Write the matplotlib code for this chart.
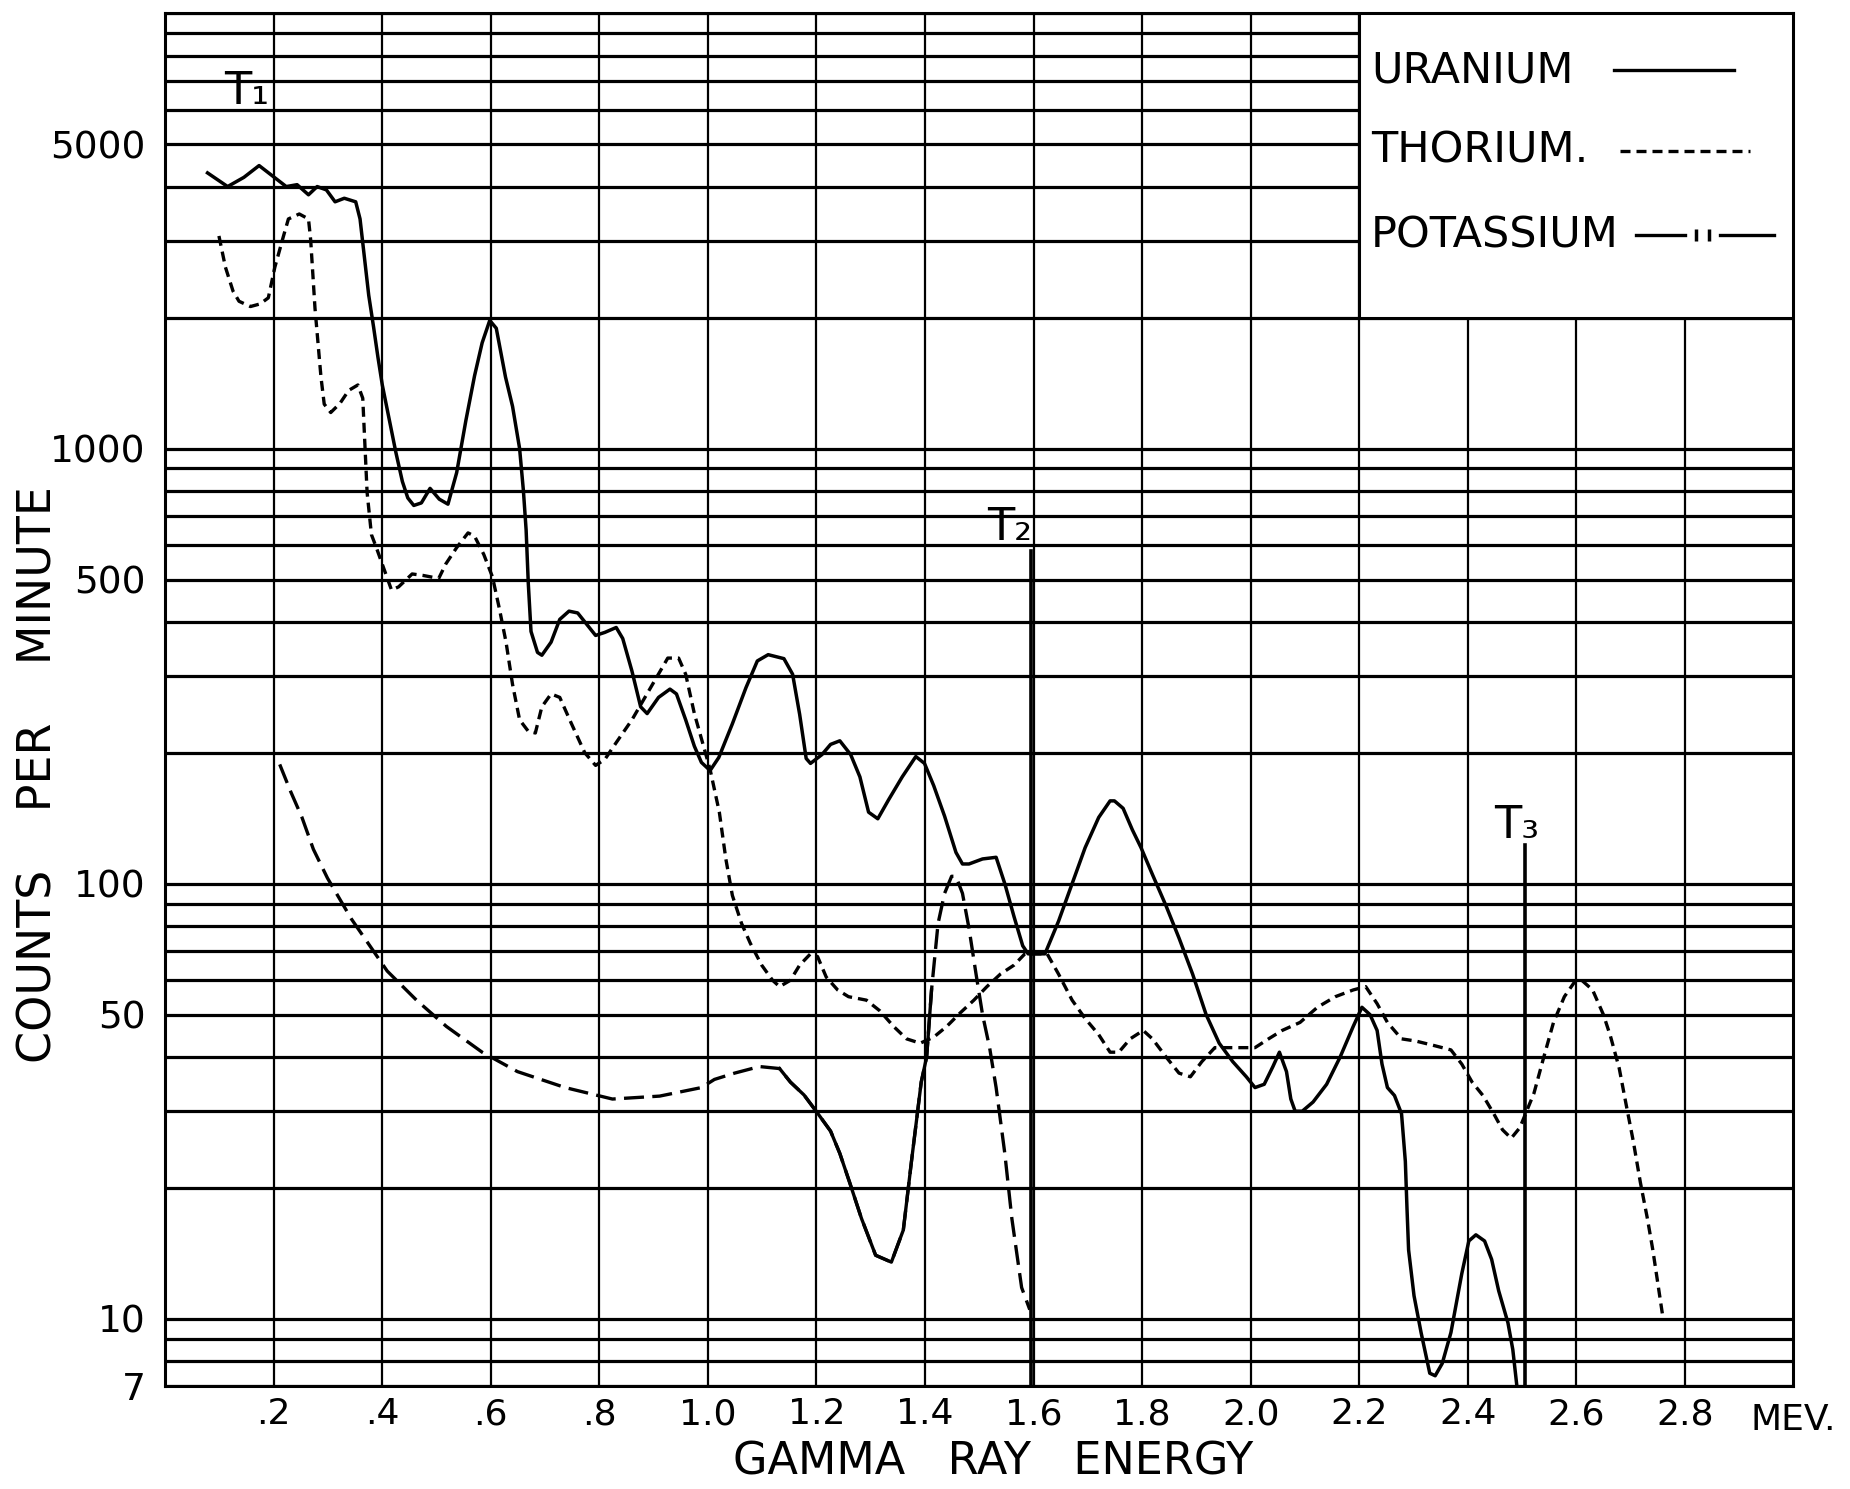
import matplotlib.pyplot as plt
from matplotlib.patches import Rectangle
from matplotlib.ticker import NullLocator

plt.rcParams['font.family'] = ['DejaVu Sans']

# uranium spectrum (solid)
uranium_mev = [0.078, 0.115, 0.145, 0.173, 0.202, 0.223, 0.243, 0.264, 0.280, 0.297,
               0.313, 0.330, 0.351, 0.359, 0.367, 0.375, 0.384, 0.392, 0.400, 0.412,
               0.425, 0.437, 0.447, 0.458, 0.472, 0.488, 0.505, 0.521, 0.537, 0.554,
               0.570, 0.584, 0.598, 0.610, 0.627, 0.640, 0.653, 0.660, 0.665, 0.669,
               0.674, 0.686, 0.694, 0.711, 0.727, 0.744, 0.760, 0.777, 0.793, 0.810,
               0.831, 0.843, 0.860, 0.876, 0.888, 0.909, 0.930, 0.942, 0.959, 0.975,
               0.988, 1.004, 1.020, 1.045, 1.070, 1.091, 1.111, 1.140, 1.156, 1.169,
               1.181, 1.189, 1.210, 1.226, 1.243, 1.263, 1.280, 1.296, 1.313, 1.333,
               1.358, 1.383, 1.399, 1.416, 1.436, 1.457, 1.469, 1.481, 1.506, 1.531,
               1.547, 1.564, 1.580, 1.590, 1.621, 1.646, 1.671, 1.695, 1.720, 1.741,
               1.749, 1.765, 1.782, 1.798, 1.819, 1.844, 1.868, 1.893, 1.918, 1.942,
               1.967, 1.992, 2.008, 2.025, 2.041, 2.053, 2.066, 2.074, 2.082, 2.095,
               2.115, 2.140, 2.165, 2.189, 2.205, 2.220, 2.233, 2.242, 2.252, 2.265,
               2.278, 2.285, 2.288, 2.291, 2.301, 2.314, 2.330, 2.340, 2.353, 2.369,
               2.389, 2.402, 2.415, 2.431, 2.444, 2.457, 2.474, 2.483, 2.490]
uranium_cpm = [4300, 4000, 4200, 4470, 4190, 4000, 4040, 3830, 4000, 3930,
               3690, 3760, 3690, 3370, 2760, 2250, 1900, 1620, 1400, 1180,
               980, 840, 770, 740, 750, 810, 765, 745, 880, 1160,
               1470, 1750, 1970, 1890, 1460, 1250, 1000, 800, 650, 490,
               380, 340, 335, 359, 405, 423, 419, 394, 372, 378,
               388, 366, 308, 255, 246, 268, 280, 273, 238, 207,
               190, 182, 195, 233, 282, 325, 336, 329, 303, 245,
               194, 189, 198, 209, 213, 198, 176, 146, 141, 156,
               176, 196, 189, 168, 143, 118, 111, 111, 114, 115,
               100, 84, 72, 69, 69, 82, 100, 121, 142, 155,
               155, 149, 133, 121, 105, 89, 75, 62, 50, 43,
               39, 36, 34, 34.6, 38, 41, 37, 32, 30, 30,
               31.5, 34.6, 40, 47, 52, 50, 46, 38.5, 34, 32.6,
               29.6, 23, 18, 14.4, 11.3, 9.3, 7.5, 7.4, 7.9, 9.3,
               12.7, 15.1, 15.6, 15.1, 13.7, 11.6, 9.8, 8.5, 7.1]

# thorium spectrum (short dashes)
thorium_mev = [0.099, 0.111, 0.125, 0.136, 0.157, 0.175, 0.190, 0.202, 0.218, 0.227,
               0.247, 0.264, 0.268, 0.276, 0.287, 0.293, 0.305, 0.322, 0.338, 0.355,
               0.364, 0.372, 0.380, 0.388, 0.417, 0.430, 0.455, 0.475, 0.504, 0.517,
               0.537, 0.558, 0.570, 0.587, 0.603, 0.616, 0.628, 0.640, 0.653, 0.669,
               0.682, 0.694, 0.711, 0.727, 0.748, 0.773, 0.793, 0.810, 0.831, 0.860,
               0.884, 0.909, 0.926, 0.946, 0.959, 0.975, 0.992, 1.004, 1.021, 1.033,
               1.045, 1.062, 1.078, 1.099, 1.119, 1.132, 1.152, 1.169, 1.189, 1.202,
               1.218, 1.239, 1.259, 1.292, 1.317, 1.342, 1.366, 1.391, 1.416, 1.440,
               1.465, 1.490, 1.514, 1.539, 1.564, 1.584, 1.625, 1.646, 1.671, 1.695,
               1.720, 1.741, 1.757, 1.778, 1.802, 1.819, 1.844, 1.868, 1.889, 1.910,
               1.934, 1.959, 1.984, 2.008, 2.033, 2.058, 2.091, 2.123, 2.156, 2.189,
               2.212, 2.233, 2.252, 2.278, 2.304, 2.337, 2.369, 2.389, 2.408, 2.428,
               2.448, 2.464, 2.480, 2.496, 2.522, 2.539, 2.558, 2.578, 2.597, 2.610,
               2.630, 2.650, 2.663, 2.679, 2.692, 2.705, 2.718, 2.731, 2.741, 2.750,
               2.760]
thorium_cpm = [3080, 2610, 2300, 2180, 2120, 2150, 2220, 2610, 3080, 3370,
               3460, 3370, 3020, 2100, 1460, 1265, 1210, 1270, 1360, 1400,
               1305, 793, 634, 597, 473, 481, 515, 511, 503, 543,
               592, 640, 629, 571, 507, 427, 359, 287, 238, 224,
               222, 255, 273, 268, 234, 200, 187, 193, 211, 238,
               268, 303, 330, 330, 303, 246, 207, 183, 146, 114,
               94, 81, 73, 65, 60, 58, 60, 65, 69, 68,
               61, 57, 55, 54, 51, 47, 44, 43, 44.4, 47,
               50.5, 54, 58, 62, 65, 69, 69, 62, 54, 49,
               45, 41, 41, 44, 46, 44, 40, 36.7, 36, 39,
               42, 42, 42, 42, 44, 46, 48, 52, 55, 57,
               58, 53, 48, 44, 43.5, 42.5, 41.5, 38.5, 35, 32.6,
               29.6, 27.2, 26, 27.5, 33, 39.5, 48, 55, 59.5, 60,
               57, 50, 44.6, 37.7, 31, 25.6, 20.6, 17, 14.4, 12.1,
               10]

# potassium spectrum (long dashes, solid between 1.13 and 1.41 MeV)
potassium_mev = [0.211, 0.231, 0.252, 0.273, 0.299, 0.343, 0.409, 0.463, 0.518, 0.584,
                 0.649, 0.737, 0.824, 0.911, 0.988, 1.012, 1.049, 1.095, 1.132, 1.152,
                 1.177, 1.202, 1.226, 1.243, 1.261, 1.283, 1.309, 1.338, 1.360, 1.375,
                 1.393, 1.403, 1.412, 1.424, 1.436, 1.449, 1.457, 1.469, 1.481, 1.494,
                 1.506, 1.519, 1.531, 1.547, 1.560, 1.578, 1.593]
potassium_cpm = [188, 163, 142, 120, 103, 83, 63, 54, 47, 41,
                 37, 34, 32, 32.5, 34, 35.5, 36.7, 38, 37.6, 35,
                 32.7, 29.7, 27, 24, 20.6, 17, 14, 13.5, 16, 23,
                 35, 40, 57, 81, 95, 104, 104, 95, 79, 62,
                 50, 42, 34, 24, 17, 11.8, 10.5]
k_solid_from, k_solid_to = 1.13, 1.415

# marker lines T2, T3
t2_mev, t2_top = 1.595, 580
t3_mev, t3_top = 2.506, 123

grid_counts = [m * 10 ** e for e in range(0, 4) for m in range(1, 10)] + [10000]
grid_counts = [v for v in grid_counts if v >= 7]
count_labels = {7: '7', 10: '10', 50: '50', 100: '100', 500: '500', 1000: '1000', 5000: '5000'}
energy_ticks = [0.2, 0.4, 0.6, 0.8, 1.0, 1.2, 1.4, 1.6, 1.8, 2.0, 2.2, 2.4, 2.6, 2.8]
energy_labels = ['.2', '.4', '.6', '.8', '1.0', '1.2', '1.4', '1.6', '1.8',
                 '2.0', '2.2', '2.4', '2.6', '2.8']
legend_names = ['URANIUM', 'THORIUM.', 'POTASSIUM']

fig = plt.figure(figsize=(18.5, 14.89), dpi=100)
ax = fig.add_axes([0.0893, 0.069, 0.8801, 0.922])
ax.set_yscale('log')
ax.set_xlim(0, 3.0)
ax.set_ylim(7, 10000)

ax.set_yticks(grid_counts, labels=[count_labels.get(v, '') for v in grid_counts])
ax.yaxis.set_minor_locator(NullLocator())
ax.set_xticks(energy_ticks, labels=energy_labels)
ax.tick_params(axis='y', length=0, labelsize=27, pad=14)
ax.tick_params(axis='x', length=0, labelsize=26, pad=8)

# graph paper
for v in grid_counts:
    ax.axhline(v, color='black', lw=2.3, zorder=1)
for e in energy_ticks:
    ax.axvline(e, color='black', lw=1.6, zorder=1)
for s in ax.spines.values():
    s.set_linewidth(2.2)

ax.plot(uranium_mev, uranium_cpm, color='black', lw=2.5, zorder=4)
ax.plot(thorium_mev, thorium_cpm, color='black', lw=2.4, ls=(0, (3, 1.8)), zorder=4)
ax.plot(potassium_mev, potassium_cpm, color='black', lw=2.4, ls=(0, (6, 2.5)), zorder=4)
k_seg = [(e, c) for e, c in zip(potassium_mev, potassium_cpm) if k_solid_from <= e <= k_solid_to]
ax.plot([p[0] for p in k_seg], [p[1] for p in k_seg], color='black', lw=2.4, zorder=4)

ax.plot([t2_mev, t2_mev], [7, t2_top], color='black', lw=2.6, zorder=4)
ax.plot([t3_mev, t3_mev], [7, t3_top], color='black', lw=2.6, zorder=4)
ax.text(0.15, 6600, 'T₁', fontsize=32, ha='center', va='center', zorder=5)
ax.text(1.556, 660, 'T₂', fontsize=32, ha='center', va='center', zorder=5)
ax.text(2.49, 136, 'T₃', fontsize=32, ha='center', va='center', zorder=5)

# legend box
ax.add_patch(Rectangle((2.2, 2000), 0.8, 8000, facecolor='white', edgecolor='black',
                       lw=2.2, zorder=3))
leg_y = [7400, 4830, 3090]
for name, y in zip(legend_names, leg_y):
    ax.text(2.222, y, name, fontsize=31, ha='left', va='center', zorder=5)
ax.plot([2.67, 2.89], [leg_y[0]] * 2, color='black', lw=2.4, zorder=5)
ax.plot([2.68, 2.92], [leg_y[1]] * 2, color='black', lw=2.4, ls=(0, (3, 1.8)), zorder=5)
ax.plot([2.71, 2.80], [leg_y[2]] * 2, color='black', lw=2.4, zorder=5)
ax.plot([2.865, 2.965], [leg_y[2]] * 2, color='black', lw=2.4, zorder=5)
ax.plot([2.82, 2.845], [leg_y[2]] * 2, color='black', lw=0, marker='|', ms=9, mew=2.5, zorder=5)

ax.text(3.0, -0.012, 'MEV.', transform=ax.get_xaxis_transform(), fontsize=26,
        ha='center', va='top')
fig.text(0.537, 0.018, 'GAMMA   RAY   ENERGY', fontsize=32, ha='center', va='center')
fig.text(0.021, 0.48, 'COUNTS    PER    MINUTE', fontsize=33, ha='center', va='center',
         rotation=90)

fig.savefig('out.png', dpi=100)
